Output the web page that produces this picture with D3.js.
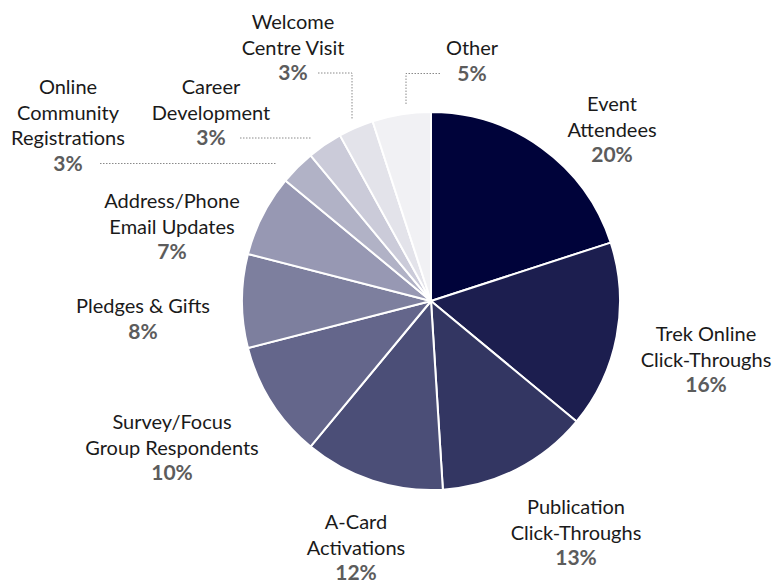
<!DOCTYPE html>
<html>
<head>
<meta charset="utf-8">
<script src="https://cdn.jsdelivr.net/npm/d3@7"></script>
<style>
  body { margin: 0; background: #fff; }
  .lbl { font-family: Lato, "Open Sans", sans-serif; font-size: 20px; fill: #1a1a1a; }
  .pct { font-family: Lato, "Open Sans", sans-serif; font-size: 21px; font-weight: 700; fill: #5c5c5c; }
  .leader { stroke: #8a8a8a; stroke-width: 1; stroke-dasharray: 1.5 1.5; fill: none; }
</style>
</head>
<body>
<div id="wrapper"></div>
<script>
// 1. Data

const categories = [
  "Event Attendees",
  "Trek Online Click-Throughs",
  "Publication Click-Throughs",
  "A-Card Activations",
  "Survey/Focus Group Respondents",
  "Pledges & Gifts",
  "Address/Phone Email Updates",
  "Online Community Registrations",
  "Career Development",
  "Welcome Centre Visit",
  "Other",
]
const values = [20, 16, 13, 12, 10, 8, 7, 3, 3, 3, 5]
const labelLines = [
  ["Event", "Attendees"],
  ["Trek Online", "Click-Throughs"],
  ["Publication", "Click-Throughs"],
  ["A-Card", "Activations"],
  ["Survey/Focus", "Group Respondents"],
  ["Pledges & Gifts"],
  ["Address/Phone", "Email Updates"],
  ["Online", "Community", "Registrations"],
  ["Career", "Development"],
  ["Welcome", "Centre Visit"],
  ["Other"],
]
const colors = [
  "#00033a", "#1c1e4f", "#333662", "#4b4e77", "#64668b",
  "#7d7f9e", "#9798b3", "#b1b2c6", "#cbcbd9", "#e3e3ea", "#f1f1f4",
]

// 2. Dimensions

const dimensions = { width: 776, height: 581 }
const center = { x: 431, y: 301 }
const radius = 189

// label anchor (x centre, y baseline of first line) per slice
const labelLayout = [
  { x: 612, y: 111 },
  { x: 706, y: 341 },
  { x: 576, y: 514 },
  { x: 356, y: 529 },
  { x: 172, y: 429 },
  { x: 143, y: 313 },
  { x: 172, y: 208 },
  { x: 68,  y: 94 },
  { x: 211, y: 94 },
  { x: 293, y: 29 },
  { x: 472, y: 55 },
]
// leader lines for the thin slices: [from x, to x at pct row, vertical end y]
const leaders = {
  7:  { x0: 100, x1: 277 },
  8:  { x0: 240, x1: 312 },
  9:  { x0: 318, x1: 352, y1: 119 },
  10: { x0: 440, x1: 406, y1: 105 },
}

// 3. Draw canvas

const wrapper = d3.select("#wrapper")
  .append("svg")
    .attr("width", dimensions.width)
    .attr("height", dimensions.height)

const bounds = wrapper.append("g")
    .attr("transform", `translate(${center.x}, ${center.y})`)

// 4. Pie

const data = categories.map((c, i) => ({ category: c, value: values[i], i }))

const pie = d3.pie()
  .value(d => d.value)
  .sort(null)

const arc = d3.arc()
  .innerRadius(0)
  .outerRadius(radius)

const colorScale = d3.scaleOrdinal()
  .domain(categories)
  .range(colors)

bounds.selectAll(".slice")
  .data(pie(data))
  .enter().append("path")
    .attr("class", "slice")
    .attr("d", arc)
    .attr("fill", d => colorScale(d.data.category))
    .attr("stroke", "#fff")
    .attr("stroke-width", 2)
    .attr("stroke-linejoin", "round")

// 5. Labels

const lineHeight = 25.5

const labels = wrapper.selectAll(".label")
  .data(data)
  .enter().append("g")
    .attr("class", "label")

labels.each(function(d) {
  const g = d3.select(this)
  const pos = labelLayout[d.i]
  const lines = labelLines[d.i]
  lines.forEach((t, k) => {
    g.append("text")
      .attr("class", "lbl")
      .attr("x", pos.x)
      .attr("y", pos.y + k * lineHeight)
      .attr("text-anchor", "middle")
      .text(t)
  })
  const pctY = pos.y + lines.length * lineHeight
  g.append("text")
    .attr("class", "pct")
    .attr("x", pos.x)
    .attr("y", pctY)
    .attr("text-anchor", "middle")
    .text(d.value + "%")

  const ld = leaders[d.i]
  if (ld) {
    const ly = pctY - 7
    const pts = [[ld.x0, ly], [ld.x1, ly]]
    if (ld.y1) pts.push([ld.x1, ld.y1])
    wrapper.append("path")
      .attr("class", "leader")
      .attr("d", d3.line()(pts))
  }
})
</script>
</body>
</html>
